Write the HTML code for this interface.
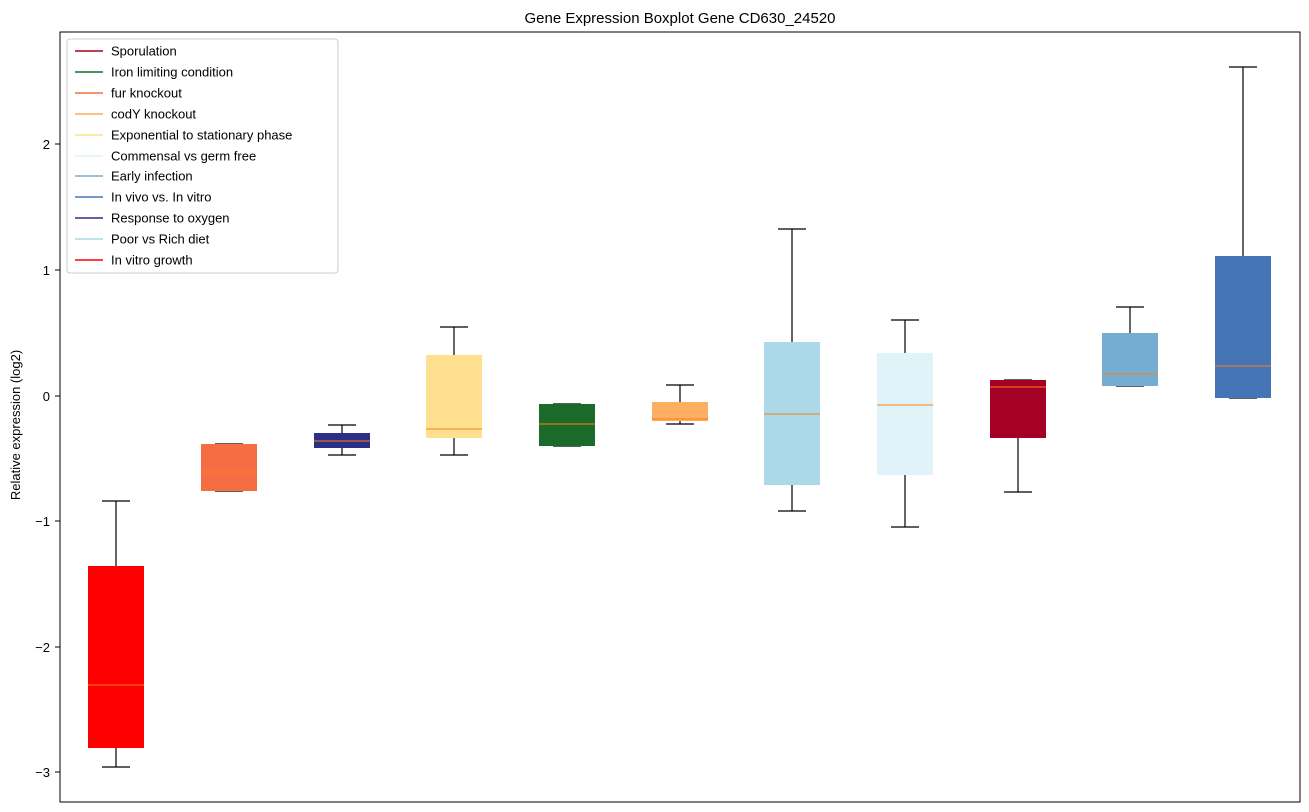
<!DOCTYPE html>
<html><head><meta charset="utf-8"><style>body{margin:0;background:#fff}svg{display:block}text{font-family:"Liberation Sans","DejaVu Sans",sans-serif}</style></head><body>
<svg width="1309" height="812" xmlns="http://www.w3.org/2000/svg">
<rect width="1309" height="812" fill="#fff"/>
<text x="680" y="23" font-size="15" text-anchor="middle">Gene Expression Boxplot Gene CD630_24520</text>
<g font-size="13" text-anchor="end">
<line x1="55" x2="60" y1="144" y2="144" stroke="#000"/><text x="50" y="149">2</text>
<line x1="55" x2="60" y1="270" y2="270" stroke="#000"/><text x="50" y="275">1</text>
<line x1="55" x2="60" y1="396" y2="396" stroke="#000"/><text x="50" y="401">0</text>
<line x1="55" x2="60" y1="521" y2="521" stroke="#000"/><text x="50" y="526">−1</text>
<line x1="55" x2="60" y1="647" y2="647" stroke="#000"/><text x="50" y="652">−2</text>
<line x1="55" x2="60" y1="772" y2="772" stroke="#000"/><text x="50" y="777">−3</text>
</g>
<text transform="translate(20,425) rotate(-90)" font-size="13" text-anchor="middle">Relative expression (log2)</text>
<g stroke="#000" stroke-width="1.2" fill="none">
<path d="M116 501V566M116 748V767M102 501H130M102 767H130"/>
<path d="M215 444H243M215 491H243"/>
<path d="M342 425V433M342 448V455M328 425H356M328 455H356"/>
<path d="M454 327V355M454 438V455M440 327H468M440 455H468"/>
<path d="M553 404H581M553 446H581"/>
<path d="M680 385V402M680 421V424M666 385H694M666 424H694"/>
<path d="M792 229V342M792 485V511M778 229H806M778 511H806"/>
<path d="M905 320V353M905 475V527M891 320H919M891 527H919"/>
<path d="M1018 438V492M1004 380H1032M1004 492H1032"/>
<path d="M1130 307V333M1116 307H1144M1116 386H1144"/>
<path d="M1243 67V256M1229 67H1257M1229 398H1257"/>
</g>
<g>
<rect x="88" y="566" width="56" height="182" fill="#ff0000"/>
<rect x="201" y="444" width="56" height="47" fill="#f46d43"/>
<rect x="314" y="433" width="56" height="15" fill="#2b2f87"/>
<rect x="426" y="355" width="56" height="83" fill="#fee090"/>
<rect x="539" y="404" width="56" height="42" fill="#1a6b2a"/>
<rect x="652" y="402" width="56" height="19" fill="#fdae61"/>
<rect x="764" y="342" width="56" height="143" fill="#abd9e9"/>
<rect x="877" y="353" width="56" height="122" fill="#e0f3f8"/>
<rect x="990" y="380" width="56" height="58" fill="#a50026"/>
<rect x="1102" y="333" width="56" height="53" fill="#74add1"/>
<rect x="1215" y="256" width="56" height="142" fill="#4575b4"/>
</g>
<g stroke="#ff7f0e" stroke-width="1">
<path d="M88 685H144M201 472H257M314 441H370M426 429H482M539 424H595M652 419H708M764 414H820M877 405H933M990 387H1046M1102 374H1158M1215 366H1271"/>
</g>
<rect x="60" y="32" width="1240" height="770" fill="none" stroke="#000" stroke-width="1"/>
<rect x="67" y="39" width="271" height="234" rx="3" fill="#fff" fill-opacity="0.8" stroke="#ccc"/>
<g font-size="13" stroke-width="1.5">
<line x1="75" x2="103" y1="51" y2="51" stroke="#a50026"/><text x="111" y="55.5">Sporulation</text>
<line x1="75" x2="103" y1="72" y2="72" stroke="#1a6b2a"/><text x="111" y="76.5">Iron limiting condition</text>
<line x1="75" x2="103" y1="93" y2="93" stroke="#f46d43"/><text x="111" y="97.5">fur knockout</text>
<line x1="75" x2="103" y1="114" y2="114" stroke="#fdae61"/><text x="111" y="118.5">codY knockout</text>
<line x1="75" x2="103" y1="135" y2="135" stroke="#fee090"/><text x="111" y="139.5">Exponential to stationary phase</text>
<line x1="75" x2="103" y1="156" y2="156" stroke="#e0f3f8"/><text x="111" y="160.5">Commensal vs germ free</text>
<line x1="75" x2="103" y1="176" y2="176" stroke="#74add1"/><text x="111" y="180.5">Early infection</text>
<line x1="75" x2="103" y1="197" y2="197" stroke="#4575b4"/><text x="111" y="201.5">In vivo vs. In vitro</text>
<line x1="75" x2="103" y1="218" y2="218" stroke="#2b2f87"/><text x="111" y="222.5">Response to oxygen</text>
<line x1="75" x2="103" y1="239" y2="239" stroke="#abd9e9"/><text x="111" y="243.5">Poor vs Rich diet</text>
<line x1="75" x2="103" y1="260" y2="260" stroke="#ff0000"/><text x="111" y="264.5">In vitro growth</text>
</g>
</svg>
</body></html>
